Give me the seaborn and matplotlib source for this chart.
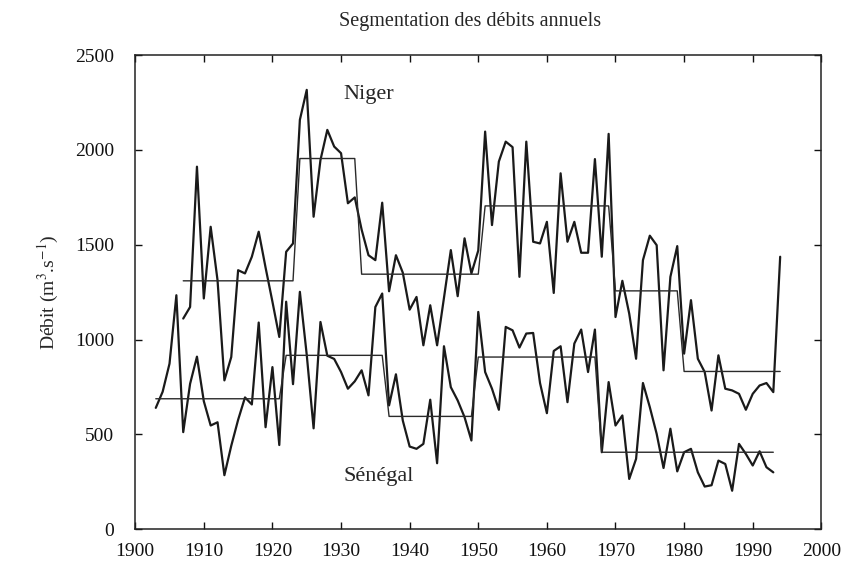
import numpy as np
import pandas as pd
import matplotlib
matplotlib.use("Agg")
import matplotlib.pyplot as plt
import seaborn as sns

# ---- data -------------------------------------------------------------
niger_years = list(range(1907, 1995))
niger_values = [
    1111, 1172, 1912, 1217, 1595, 1313, 785, 908, 1366, 1349,      # 1907-1916
    1437, 1569, 1380, 1200, 1014, 1463, 1507, 2159, 2317, 1648,    # 1917-1926
    1947, 2106, 2018, 1983, 1719, 1750, 1580, 1445, 1419, 1722,    # 1927-1936
    1255, 1445, 1353, 1158, 1225, 970, 1181, 970, 1220, 1472,      # 1937-1946
    1229, 1534, 1349, 1470, 2097, 1604, 1939, 2044, 2015, 1331,    # 1947-1956
    2044, 1516, 1507, 1621, 1246, 1877, 1516, 1621, 1458, 1458,    # 1957-1966
    1952, 1437, 2085, 1119, 1310, 1137, 899, 1419, 1548, 1498,     # 1967-1976
    838, 1331, 1493, 926, 1208, 899, 829, 626, 917, 741,           # 1977-1986
    732, 714, 630, 714, 758, 771, 723, 1437,                       # 1987-1994
]

senegal_years = list(range(1903, 1994))
senegal_values = [
    640, 725, 873, 1234, 512, 767, 910,                            # 1903-1909
    675, 547, 564, 285, 440, 577, 695, 658, 1090, 538,             # 1910-1919
    855, 444, 1200, 765, 1252, 920, 532, 1093, 915, 898,           # 1920-1929
    829, 741, 780, 838, 706, 1172, 1243, 653, 817, 573,            # 1930-1939
    436, 424, 450, 683, 348, 965, 749, 679, 591, 468,              # 1940-1949
    1146, 829, 741, 630, 1067, 1049, 958, 1032, 1035, 771,         # 1950-1959
    612, 940, 965, 670, 979, 1053, 829, 1053, 406, 776,            # 1960-1969
    547, 600, 265, 371, 771, 644, 503, 323, 530, 305,              # 1970-1979
    406, 424, 300, 225, 232, 362, 344, 203, 450, 397,              # 1980-1989
    336, 411, 327, 300,                                            # 1990-1993
]

# segmentation (start year, end year, mean)
niger_seg_start = [1907, 1924, 1933, 1951, 1970, 1980]
niger_seg_end = [1923, 1932, 1950, 1969, 1979, 1994]
niger_seg_mean = [1310, 1955, 1345, 1705, 1257, 832]

senegal_seg_start = [1903, 1922, 1937, 1950, 1968]
senegal_seg_end = [1921, 1936, 1949, 1967, 1993]
senegal_seg_mean = [688, 917, 595, 908, 406]

x_ticks = list(range(1900, 2001, 10))
y_ticks = list(range(0, 2501, 500))


def step_frame(starts, ends, means):
    xs, ys = [], []
    for s, e, m in zip(starts, ends, means):
        xs += [s, e]
        ys += [m, m]
    return pd.DataFrame({"year": xs, "mean": ys})


# ---- style --------------------------------------------------------------
sns.set_style("ticks")
plt.rcParams["font.family"] = ["Liberation Serif", "DejaVu Serif"]
plt.rcParams["mathtext.fontset"] = "stix"
plt.rcParams["xtick.direction"] = "in"
plt.rcParams["ytick.direction"] = "in"

fig = plt.figure(figsize=(8.45, 5.63), dpi=100)
ax = fig.add_axes([0.160, 0.060, 0.812, 0.842])

df_n = pd.DataFrame({"year": niger_years, "debit": niger_values})
df_s = pd.DataFrame({"year": senegal_years, "debit": senegal_values})

data_kw = dict(color="#1a1a1a", linewidth=1.6, ax=ax, sort=False)
sns.lineplot(data=df_n, x="year", y="debit", **data_kw)
sns.lineplot(data=df_s, x="year", y="debit", **data_kw)

seg_kw = dict(color="#2a2a2a", linewidth=1.0, ax=ax, sort=False)
sns.lineplot(data=step_frame(niger_seg_start, niger_seg_end, niger_seg_mean),
             x="year", y="mean", **seg_kw)
sns.lineplot(data=step_frame(senegal_seg_start, senegal_seg_end, senegal_seg_mean),
             x="year", y="mean", **seg_kw)

ax.set_xlim(1900, 2000)
ax.set_ylim(0, 2500)
ax.set_xticks(x_ticks)
ax.set_yticks(y_ticks)
ax.tick_params(axis="both", which="both", direction="in", top=True, right=True,
               labelsize=14, length=5, width=1, colors="#111111")
ax.tick_params(axis="y", pad=15)
ax.tick_params(axis="x", pad=10)
for sp in ax.spines.values():
    sp.set_visible(True)
    sp.set_linewidth(1.1)
    sp.set_color("#222222")

ax.set_xlabel("")
ax.set_ylabel("Débit (m$^3$.s$^{-1}$)", fontsize=14, labelpad=10)
fig.text(0.556, 0.962, "Segmentation des débits annuels", ha="center",
         va="center", fontsize=14.5)

ax.text(1934.0, 2290, "Niger", ha="center", va="center", fontsize=16)
ax.text(1935.5, 280, "Sénégal", ha="center", va="center", fontsize=16)

fig.savefig("out.png", dpi=100)
